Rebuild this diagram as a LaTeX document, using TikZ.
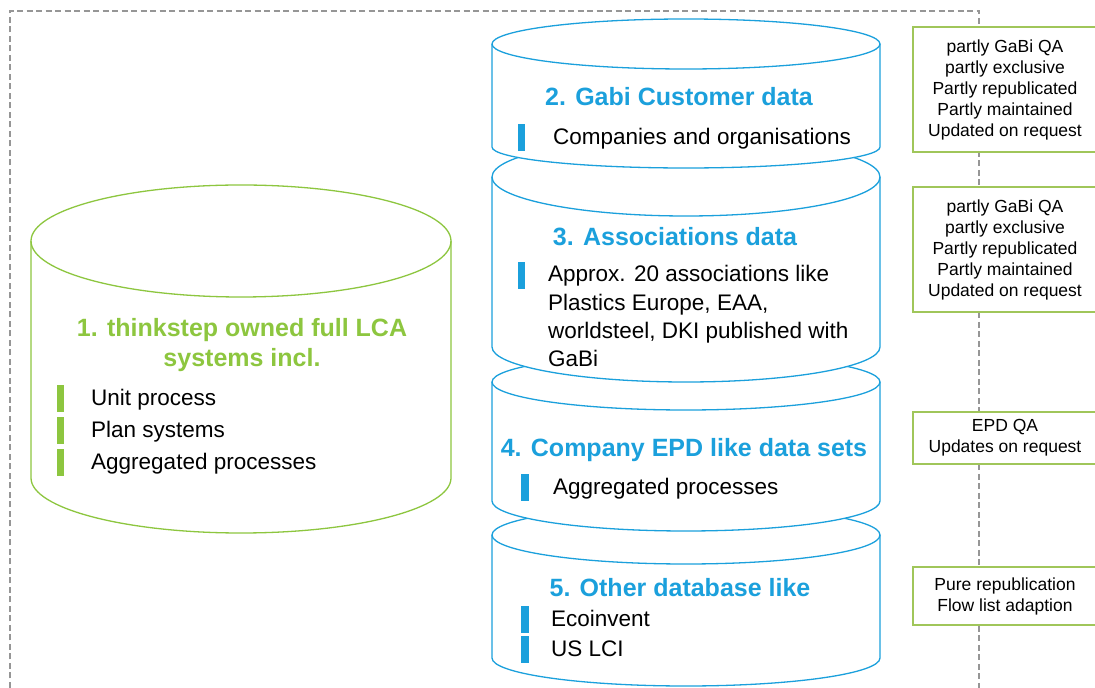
\documentclass[tikz,border=0pt]{standalone}
\usepackage{fontspec}
\setmainfont{Liberation Sans}
\definecolor{cblue}{RGB}{27,160,220}
\definecolor{cgreen}{RGB}{141,198,63}
\definecolor{cboxg}{RGB}{160,198,90}
\definecolor{cgray}{RGB}{150,150,150}
\newcommand\dbcyl[7]{%
 \path[fill=white] (#2,#4) arc[start angle=180,end angle=0,x radius={(#3-#2)/2},y radius=#5] -- (#3,#6) arc[start angle=0,end angle=-180,x radius={(#3-#2)/2},y radius=#7] -- cycle;
 \draw[#1,cyl] ({(#2+#3)/2},#4) ellipse[x radius={(#3-#2)/2},y radius=#5];
 \draw[#1,cyl] (#2,#4) -- (#2,#6) arc[start angle=180,end angle=360,x radius={(#3-#2)/2},y radius=#7] -- (#3,#4);
}
\tikzset{
 cyl/.style={line width=1.3pt},
 hdr/.style={font=\bfseries\fontsize{25}{30}\selectfont, inner sep=0pt, text height=18pt, text depth=5pt, yshift=-2.5pt},
 hdrB/.style={hdr, text=cblue},
 hdrG/.style={font=\bfseries\fontsize{25}{30}\selectfont, inner sep=0pt, text=cgreen, align=center, yshift=-2pt},
 body/.style={font=\fontsize{22.5}{28.5}\selectfont, inner sep=0pt, anchor=west, text height=17pt, text depth=5pt, yshift=-2.5pt},
 bar/.style={minimum width=7.5pt, minimum height=27pt, inner sep=0pt, draw=none},
 barB/.style={bar, fill=cblue},
 barG/.style={bar, fill=cgreen},
 note/.style={draw=cboxg, line width=1.3pt, fill=white, minimum width=184pt, inner sep=0pt, align=center, font=\fontsize{17.5}{21}\selectfont},
 frame/.style={cgray, line width=1.2pt, dash pattern=on 6pt off 3.5pt},
}
\begin{document}
\begin{tikzpicture}[x=1pt,y=1pt]
\useasboundingbox (0,0) rectangle (1095,688);
% dashed frame
\coordinate (f1) at (10,0);
\coordinate (f2) at (10,677);
\coordinate (f3) at (979,677);
\coordinate (f4) at (979,0);
\draw[frame] (f1) -- (f2) -- (f3) -- (f4);
% green cylinder
\dbcyl{cgreen}{31}{451}{447}{56}{210}{55}
\node[hdrG] (h1) at (242,345) {1. thinkstep owned full LCA\\systems incl.};
\node[barG] (g1) at (60.5,289) {};
\node[barG] (g2) at (60.5,257) {};
\node[barG] (g3) at (60.5,225) {};
\node[body] (t11) at (91,291) {Unit process};
\node[body] (t12) at (91,259) {Plan systems};
\node[body] (t13) at (91,227) {Aggregated processes};
% blue cylinders, bottom to top
\dbcyl{cblue}{492}{880}{153}{29}{30}{28}
\dbcyl{cblue}{492}{880}{306}{28}{187}{30}
\dbcyl{cblue}{492}{880}{511}{39}{341}{35}
\dbcyl{cblue}{492}{880}{644}{25}{541}{21}
% cylinder 2
\node[hdrB] (h2) at (679,591) {2. Gabi Customer data};
\node[barB] (b2) at (521.5,550) {};
\node[body] (t2) at (553,552) {Companies and organisations};
% cylinder 3
\node[hdrB] (h3) at (675,451) {3. Associations data};
\node[barB] (b3) at (521.5,412) {};
\node[body] (t31) at (548,415) {Approx. 20 associations like};
\node[body] (t32) at (548,386) {Plastics Europe, EAA,};
\node[body] (t33) at (548,358) {worldsteel, DKI published with};
\node[body] (t34) at (548,330) {GaBi};
% cylinder 4
\node[hdrB] (h4) at (684,240) {4. Company EPD like data sets};
\node[barB] (b4) at (525,200) {};
\node[body] (t4) at (553,202) {Aggregated processes};
% cylinder 5
\node[hdrB] (h5) at (680,100) {5. Other database like};
\node[barB] (b51) at (525,68) {};
\node[barB] (b52) at (525,38) {};
\node[body] (t51) at (551,70) {Ecoinvent};
\node[body] (t52) at (551,40) {US LCI};
% notes
\node[note, minimum height=125pt] (n1) at (1005,598.5) {partly GaBi QA\\partly exclusive\\Partly republicated\\Partly maintained\\Updated on request};
\node[note, minimum height=125pt] (n2) at (1005,438.5) {partly GaBi QA\\partly exclusive\\Partly republicated\\Partly maintained\\Updated on request};
\node[note, minimum height=52pt] (n3) at (1005,250) {EPD QA\\Updates on request};
\node[note, minimum height=58pt] (n4) at (1005,92) {Pure republication\\Flow list adaption};
\end{tikzpicture}
\end{document}
